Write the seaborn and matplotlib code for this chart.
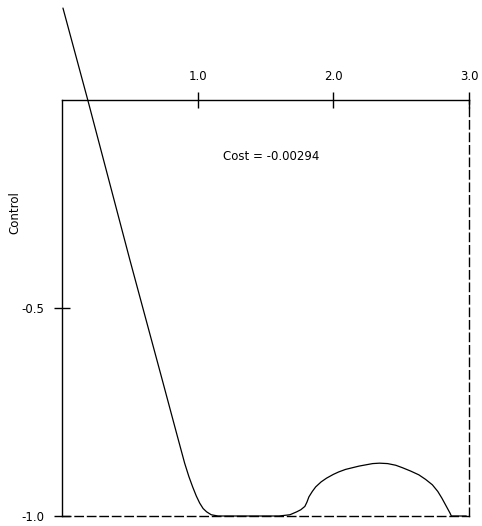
import matplotlib
matplotlib.use("Agg")
import matplotlib.pyplot as plt
import seaborn as sns
import pandas as pd

# Data
t_vals = [0.007, 0.19, 0.50, 0.74, 0.846, 0.904, 0.935, 0.963, 0.99, 1.015, 1.04, 1.066,
          1.10, 1.15, 1.40, 1.60, 1.68, 1.73, 1.76, 1.79, 1.805, 1.82, 1.845, 1.87, 1.91, 1.95,
          2.00, 2.04, 2.09, 2.14, 2.19, 2.24, 2.29, 2.34, 2.40, 2.46, 2.51, 2.57, 2.63,
          2.68, 2.73, 2.77, 2.80, 2.82, 2.84, 2.86, 2.87, 2.98]
u_vals = [0.221, 0.0, -0.384, -0.674, -0.803, -0.873, -0.905, -0.930, -0.952, -0.969, -0.982, -0.990,
          -0.997, -1.0, -1.0, -1.0, -0.997, -0.990, -0.985, -0.977, -0.967, -0.954, -0.941, -0.930, -0.918, -0.909,
          -0.900, -0.894, -0.888, -0.884, -0.880, -0.877, -0.874, -0.873, -0.874, -0.878, -0.884, -0.892, -0.901,
          -0.912, -0.925, -0.941, -0.957, -0.969, -0.981, -0.993, -1.0, -1.0]
x_ticks = [1.0, 2.0, 3.0]
x_tick_labels = ["1.0", "2.0", "3.0"]
y_ticks = [-0.5, -1.0]
y_tick_labels = ["-0.5", "-1.0"]
cost_text = "Cost = -0.00294"
y_label = "Control"

sns.set_theme(style="white")
plt.rcParams['font.family'] = ['DejaVu Sans']

fig = plt.figure(figsize=(4.82, 5.26), dpi=100)
ax = fig.add_axes([62/482, 1 - 516/526, (469 - 62)/482, (516 - 100)/526])

df = pd.DataFrame({"t": t_vals, "u": u_vals})
sns.lineplot(data=df, x="t", y="u", sort=False, ax=ax, color="black", lw=0.9,
             clip_on=False, estimator=None)

ax.set_xlim(0, 3.0)
ax.set_ylim(-1.0, 0)

for s in ["top", "left"]:
    ax.spines[s].set_color("black")
    ax.spines[s].set_linewidth(1.0)
for s in ["bottom", "right"]:
    ax.spines[s].set_color("black")
    ax.spines[s].set_linewidth(1.0)
    ax.spines[s].set_linestyle((0, (6, 3)))

ax.xaxis.tick_top()
ax.set_xticks(x_ticks)
ax.set_xticklabels(x_tick_labels)
ax.set_yticks(y_ticks)
ax.set_yticklabels(y_tick_labels)
ax.tick_params(axis="x", direction="inout", length=11, width=1.0, pad=6.5,
               labelsize=8.5, colors="black", top=True, bottom=False)
ax.tick_params(axis="y", direction="inout", length=11, width=1.0, pad=7,
               labelsize=8.5, colors="black", left=True)
ax.set_xlabel("")
ax.set_ylabel("")

ax.text(1.54, -0.137, cost_text, ha="center", va="center", fontsize=8.5, color="black")
fig.text(15/482, 1 - 213/526, y_label, rotation=90, ha="center", va="center",
         fontsize=8.5, color="black")

fig.savefig("out.png", dpi=100)
